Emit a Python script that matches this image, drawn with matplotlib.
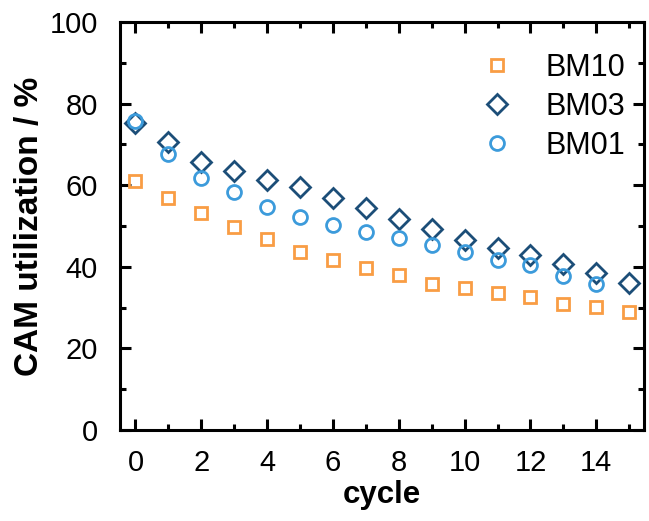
import matplotlib
matplotlib.use("Agg")
import matplotlib.pyplot as plt
from matplotlib.ticker import MultipleLocator

plt.rcParams['font.family'] = ['Liberation Sans', 'DejaVu Sans']

cycles_10 = list(range(16))
bm10 = [61.1, 56.9, 53.1, 49.8, 46.8, 43.7, 41.7, 39.6, 38.0, 35.8, 34.7, 33.7, 32.5, 30.9, 30.2, 29.0]
cycles_03 = list(range(16))
bm03 = [75.3, 70.7, 65.8, 63.6, 61.3, 59.5, 56.9, 54.3, 51.6, 49.2, 46.6, 44.7, 42.9, 40.7, 38.4, 36.0]
cycles_01 = list(range(15))
bm01 = [75.8, 67.6, 61.7, 58.4, 54.7, 52.1, 50.2, 48.6, 47.0, 45.3, 43.7, 41.7, 40.4, 37.7, 35.7]

c_orange = '#F99D44'
c_dark = '#1C4E78'
c_light = '#3C9BDB'

fig = plt.figure(figsize=(6.49, 5.21), dpi=100)
ax = fig.add_axes([120/649, 91/521, 524/649, 408/521])

mew = 2.0
ax.plot(cycles_10, bm10, linestyle='none', marker='s', ms=9, mfc='none', mec=c_orange, mew=mew, label='BM10')
ax.plot(cycles_03, bm03, linestyle='none', marker='D', ms=10, mfc='none', mec=c_dark, mew=mew, label='BM03')
ax.plot(cycles_01, bm01, linestyle='none', marker='o', ms=10, mfc='none', mec=c_light, mew=mew, label='BM01')

ax.set_xlim(-0.47, 15.45)
ax.set_ylim(0, 100)
ax.xaxis.set_major_locator(MultipleLocator(2))
ax.xaxis.set_minor_locator(MultipleLocator(1))
ax.yaxis.set_major_locator(MultipleLocator(20))
ax.yaxis.set_minor_locator(MultipleLocator(10))
ax.tick_params(which='both', direction='in', top=True, right=True, width=2.2, labelsize=21)
ax.tick_params(axis='x', which='both', pad=14)
ax.tick_params(axis='y', which='both', pad=16)
ax.tick_params(which='major', length=8)
ax.tick_params(which='minor', length=4.5)
for s in ax.spines.values():
    s.set_linewidth(2.2)

ax.set_xlabel('cycle', fontsize=22.5, fontweight='bold', labelpad=2)
ax.set_ylabel('CAM utilization / %', fontsize=24, fontweight='bold', labelpad=3)

leg = ax.legend(loc='upper right', frameon=False, fontsize=22, handletextpad=1.0,
                labelspacing=0.3, borderaxespad=0.2, handlelength=1.2,
                bbox_to_anchor=(1.0, 0.97))

fig.savefig('out.png', dpi=100)
